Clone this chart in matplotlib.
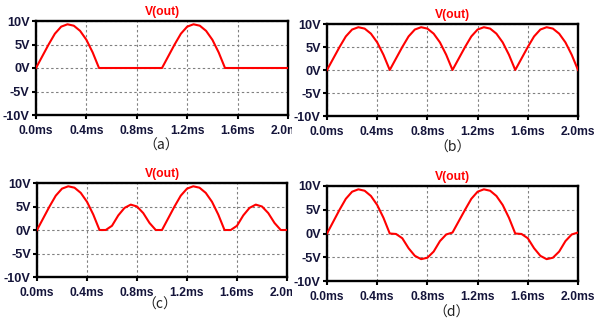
import matplotlib
matplotlib.use("Agg")
import matplotlib.pyplot as plt
from matplotlib.transforms import Bbox, TransformedBbox

time_ms = [0.00, 0.05, 0.10, 0.15, 0.20, 0.25, 0.30, 0.35, 0.40, 0.45,
           0.50, 0.55, 0.60, 0.65, 0.70, 0.75, 0.80, 0.85, 0.90, 0.95,
           1.00, 1.05, 1.10, 1.15, 1.20, 1.25, 1.30, 1.35, 1.40, 1.45,
           1.50, 1.55, 1.60, 1.65, 1.70, 1.75, 1.80, 1.85, 1.90, 1.95, 2.00]

v_a = [0, 2.5, 5.0, 7.3, 8.8, 9.3, 9.0, 7.9, 6.0, 3.3,
       0, 0, 0, 0, 0, 0, 0, 0, 0, 0,
       0, 2.5, 5.0, 7.3, 8.8, 9.3, 9.0, 7.9, 6.0, 3.3,
       0, 0, 0, 0, 0, 0, 0, 0, 0, 0, 0]

v_b = [0, 2.5, 5.0, 7.3, 8.8, 9.3, 9.0, 7.9, 6.0, 3.3,
       0, 2.5, 5.0, 7.3, 8.8, 9.3, 9.0, 7.9, 6.0, 3.3,
       0, 2.5, 5.0, 7.3, 8.8, 9.3, 9.0, 7.9, 6.0, 3.3,
       0, 2.5, 5.0, 7.3, 8.8, 9.3, 9.0, 7.9, 6.0, 3.3, 0]

v_c = [0, 2.5, 5.0, 7.3, 8.8, 9.3, 9.0, 7.9, 6.0, 3.3,
       0, 0, 0.9, 3.1, 4.7, 5.4, 5.0, 3.6, 1.5, 0,
       0, 2.5, 5.0, 7.3, 8.8, 9.3, 9.0, 7.9, 6.0, 3.3,
       0, 0, 0.9, 3.1, 4.7, 5.4, 5.0, 3.6, 1.5, 0, 0]

v_d = [0, 2.5, 5.0, 7.3, 8.8, 9.3, 9.0, 7.9, 6.0, 3.3,
       0, -0.1, -1.0, -3.1, -4.7, -5.4, -5.1, -3.8, -1.6, -0.2,
       0.2, 2.6, 5.0, 7.3, 8.8, 9.3, 9.0, 7.9, 6.0, 3.3,
       0, -0.1, -1.0, -3.1, -4.7, -5.4, -5.1, -3.8, -1.6, -0.2, 0.2]

x_ticks = [0.0, 0.4, 0.8, 1.2, 1.6, 2.0]
x_labels = ["0.0ms", "0.4ms", "0.8ms", "1.2ms", "1.6ms", "2.0ms"]
y_ticks = [-10, -5, 0, 5, 10]
y_labels = ["-10V", "-5V", "0V", "5V", "10V"]
title = "V(out)"
captions = ["（a）", "（b）", "（c）", "（d）"]
series = [v_a, v_b, v_c, v_d]

W, H = 600, 334
fig = plt.figure(figsize=(W / 100, H / 100), dpi=100)
fig.patch.set_facecolor("white")

# pixel boxes: left, right, top, bottom ; caption position (x, y)
boxes = [
    (36, 288, 21, 115, (161, 146)),
    (327, 578, 24, 116, (453, 148)),
    (37, 287, 183, 277, (160, 305)),
    (327, 578, 186, 281, (452, 313)),
]

lab_color = "#14143a"
red = "#ff0000"
font = "Liberation Sans"

axes = []
for i, (l, r, t, b, cap) in enumerate(boxes):
    ax = fig.add_axes([l / W, 1 - b / H, (r - l) / W, (b - t) / H])
    ax.plot(time_ms, series[i], color=red, lw=1.5, zorder=3)
    ax.set_xlim(0, 2.0)
    ax.set_ylim(-10, 10)
    ax.set_xticks(x_ticks)
    ax.set_xticklabels(x_labels)
    ax.set_yticks(y_ticks)
    ax.set_yticklabels(y_labels)
    ax.grid(True, color="#808080", linestyle=(0, (2.2, 2.2)), lw=0.8)
    for s in ax.spines.values():
        s.set_linewidth(1.7)
        s.set_color("black")
    ax.tick_params(axis="both", direction="out", length=3, width=1.5,
                   color="black", labelcolor=lab_color, pad=1.5)
    ax.tick_params(axis="x", pad=4, labelsize=8.7)
    ax.tick_params(axis="y", labelsize=9.2)
    for lab in ax.get_xticklabels() + ax.get_yticklabels():
        lab.set_fontfamily(font)
        lab.set_fontweight("bold")
    ax.set_title(title, color=red, fontfamily=font, fontweight="bold",
                 fontsize=8.7, pad=4)
    fig.text(cap[0] / W, 1 - cap[1] / H, captions[i],
             ha="center", va="center", fontsize=10,
             fontfamily=["Noto Sans CJK JP", "DejaVu Sans"], color="#222222")
    axes.append(ax)

# left-column last x label is cut by the right-column image
clip = TransformedBbox(Bbox([[0, 0], [292 / W, 1]]), fig.transFigure)
for ax in (axes[0], axes[2]):
    for lab in ax.get_xticklabels():
        lab.set_clip_on(True)
        lab.set_clip_box(clip)

fig.savefig("out.png", dpi=100, facecolor="white")
